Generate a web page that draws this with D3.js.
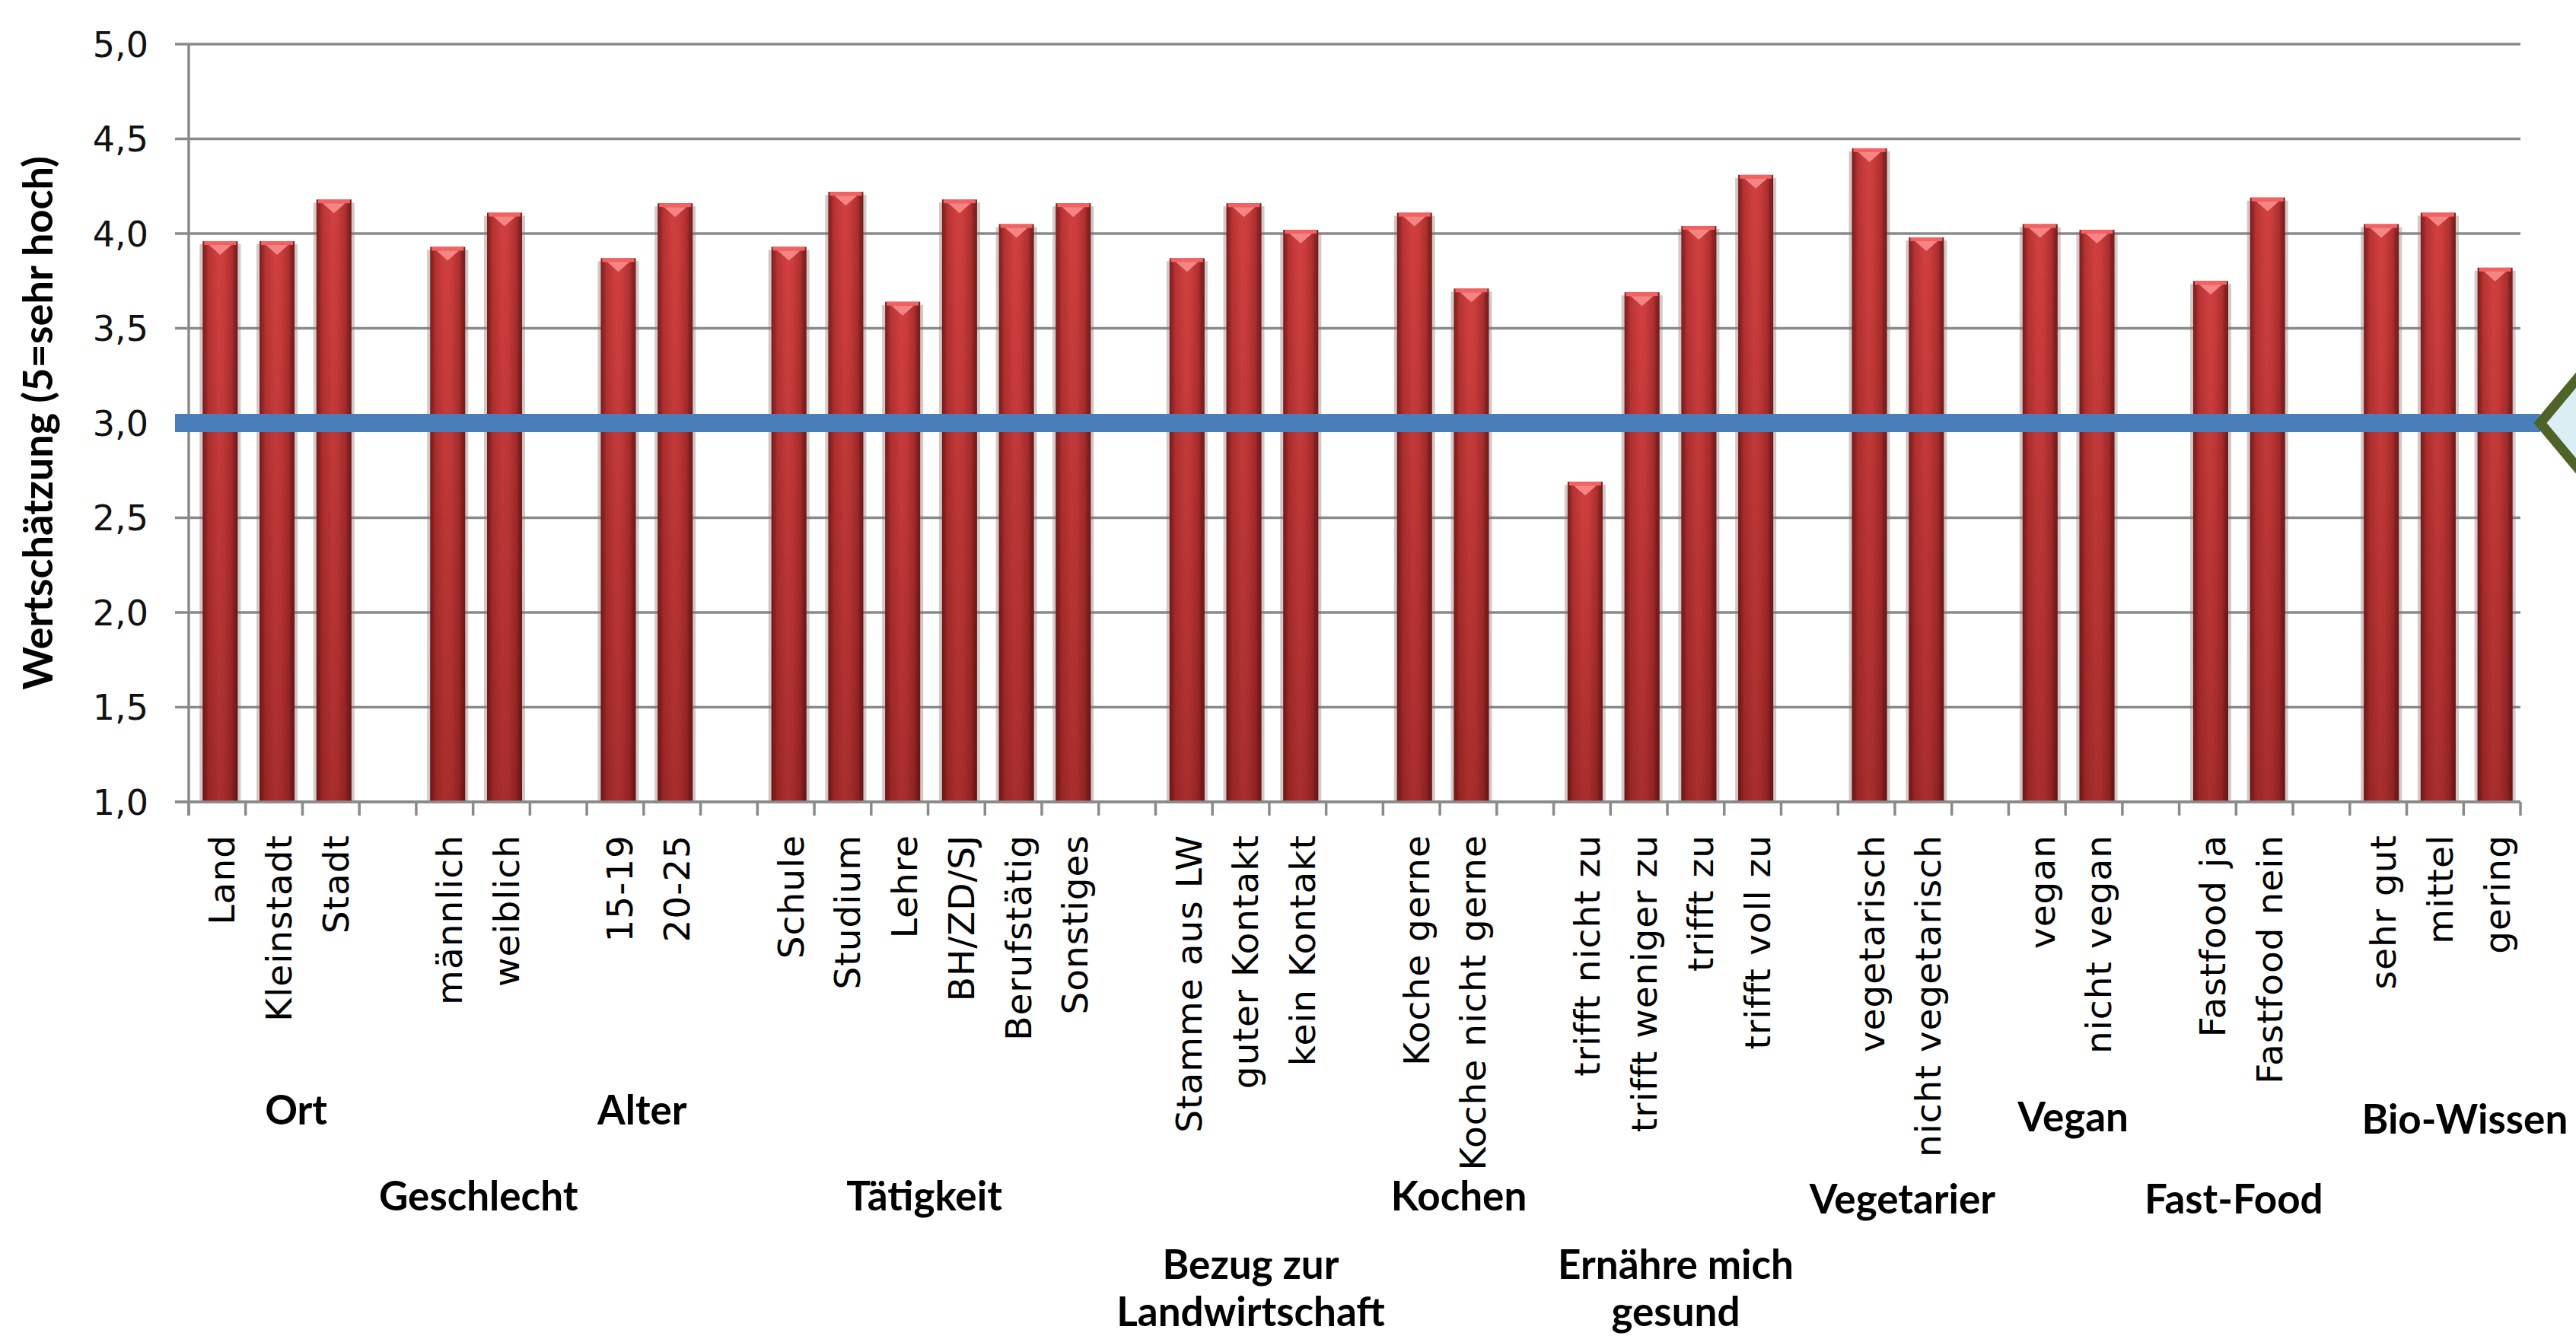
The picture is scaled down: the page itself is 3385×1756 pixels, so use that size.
<!DOCTYPE html>
<html>
<head>
<meta charset="utf-8">
<script src="https://cdn.jsdelivr.net/npm/d3@7/dist/d3.min.js"></script>
<style>
  html, body { margin: 0; padding: 0; background: #fff; }
  svg { display: block; }
</style>
</head>
<body>
<svg id="chart"></svg>
<script>
// ---------- data ----------
const groupNames = [
  "Ort", "Geschlecht", "Alter", "Tätigkeit", "Bezug zur\nLandwirtschaft",
  "Kochen", "Ernähre mich\ngesund", "Vegetarier", "Vegan", "Fast-Food", "Bio-Wissen"
];
const groupCategories = [
  ["Land", "Kleinstadt", "Stadt"],
  ["männlich", "weiblich"],
  ["15-19", "20-25"],
  ["Schule", "Studium", "Lehre", "BH/ZD/SJ", "Berufstätig", "Sonstiges"],
  ["Stamme aus LW", "guter Kontakt", "kein Kontakt"],
  ["Koche gerne", "Koche nicht gerne"],
  ["trifft nicht zu", "trifft weniger zu", "trifft zu", "trifft voll zu"],
  ["vegetarisch", "nicht vegetarisch"],
  ["vegan", "nicht vegan"],
  ["Fastfood ja", "Fastfood nein"],
  ["sehr gut", "mittel", "gering"]
];
const groupValues = [
  [3.96, 3.96, 4.18],
  [3.93, 4.11],
  [3.87, 4.16],
  [3.93, 4.22, 3.64, 4.18, 4.05, 4.16],
  [3.87, 4.16, 4.02],
  [4.11, 3.71],
  [2.69, 3.69, 4.04, 4.31],
  [4.45, 3.98],
  [4.05, 4.02],
  [3.75, 4.19],
  [4.05, 4.11, 3.82]
];
const referenceValue = 3.0;
const yTicks = [1.0, 1.5, 2.0, 2.5, 3.0, 3.5, 4.0, 4.5, 5.0];
const yTitle = "Wertschätzung (5=sehr hoch)";

// ---------- layout ----------
const W = 3385, H = 1756;
const plot = { left: 248, right: 3312, top: 58, bottom: 1054 };
// staggered rows of the group labels, plus the small nudges Excel gave them
const groupLabelRow = [0, 1, 0, 1, 2, 1, 2, 1, 0, 1, 0];
const groupLabelDx = [29, 7, -2, -5, 13, 25, 11, 10, 10, -3, 39];
const groupLabelDy = [0, 0, 0, 0, 0, 0, 0, 4, 9, 4, 12];
const rowBaseline = [1478, 1591, 1681];
const lineGap = 62;
const tickLen = 18;

// slots: members of each group followed by an empty slot (except after the last)
const slots = [];
const bars = [];
groupCategories.forEach((cats, gi) => {
  cats.forEach((c, ci) => {
    slots.push(c);
    bars.push({ label: c, value: groupValues[gi][ci], group: gi });
  });
  if (gi < groupCategories.length - 1) slots.push("__gap" + gi);
});

const svg = d3.select("#chart").attr("width", W).attr("height", H);
const defs = svg.append("defs");

const body = defs.append("linearGradient").attr("id", "barBody")
  .attr("x1", 0).attr("x2", 1).attr("y1", 0).attr("y2", 0);
[[0, "#7c1d1d"], [0.1, "#9c2929"], [0.16, "#b73333"], [0.45, "#d24040"],
 [0.6, "#cd3d3d"], [0.84, "#ad2f2f"], [0.9, "#8d2525"], [1, "#771c1c"]]
  .forEach(([o, c]) => body.append("stop").attr("offset", o).attr("stop-color", c));

const shade = defs.append("linearGradient").attr("id", "barShade")
  .attr("x1", 0).attr("x2", 0).attr("y1", 0).attr("y2", 1);
shade.append("stop").attr("offset", 0).attr("stop-color", "#400000").attr("stop-opacity", 0);
shade.append("stop").attr("offset", 1).attr("stop-color", "#400000").attr("stop-opacity", 0.28);

const x = d3.scaleBand()
  .domain(slots)
  .range([plot.left, plot.right])
  .paddingInner(0.384)
  .paddingOuter(0.192);

const y = d3.scaleLinear().domain([1, 5]).range([plot.bottom, plot.top]);
const fmt = d3.formatLocale({ decimal: ",", thousands: ".", grouping: [3], currency: ["", "€"] }).format(".1f");

// gridlines
svg.append("g")
  .selectAll("line")
  .data(yTicks)
  .join("line")
  .attr("x1", plot.left - tickLen)
  .attr("x2", plot.right)
  .attr("y1", d => y(d))
  .attr("y2", d => y(d))
  .attr("stroke", "#8a8a8a")
  .attr("stroke-width", 3.5);

// y axis line
svg.append("line")
  .attr("x1", plot.left).attr("x2", plot.left)
  .attr("y1", plot.top).attr("y2", plot.bottom + tickLen)
  .attr("stroke", "#8a8a8a").attr("stroke-width", 3.5);

// x ticks at category boundaries
const step = x.step();
const boundaries = d3.range(slots.length + 1).map(i => plot.left + i * step);
svg.append("g")
  .selectAll("line")
  .data(boundaries)
  .join("line")
  .attr("x1", d => d).attr("x2", d => d)
  .attr("y1", plot.bottom).attr("y2", plot.bottom + tickLen)
  .attr("stroke", "#8a8a8a").attr("stroke-width", 3.5);

// bars
const barG = svg.append("g")
  .selectAll("g")
  .data(bars)
  .join("g")
  .attr("transform", d => `translate(${x(d.label) + 4},0)`);

const bw = x.bandwidth();

barG.append("rect")
  .attr("x", -4)
  .attr("y", d => y(d.value) + 4)
  .attr("width", bw + 8)
  .attr("height", d => plot.bottom - y(d.value) - 4)
  .attr("fill", "#8f7676")
  .attr("opacity", 0.4);

barG.append("rect")
  .attr("x", 0)
  .attr("y", d => y(d.value))
  .attr("width", bw)
  .attr("height", d => plot.bottom - y(d.value))
  .attr("fill", "url(#barBody)");

barG.append("rect")
  .attr("x", 0)
  .attr("y", d => y(d.value))
  .attr("width", bw)
  .attr("height", d => plot.bottom - y(d.value))
  .attr("fill", "url(#barShade)");

barG.append("rect")
  .attr("x", 2)
  .attr("y", d => y(d.value))
  .attr("width", bw - 4)
  .attr("height", 5)
  .attr("fill", "#f36262");

barG.append("path")
  .attr("d", d => {
    const t = y(d.value) + 5;
    return `M${bw * 0.18},${t}L${bw * 0.82},${t}L${bw * 0.5},${t + 13}Z`;
  })
  .attr("fill", "#f58585");

// x axis line (over bar bottoms)
svg.append("line")
  .attr("x1", plot.left - tickLen).attr("x2", plot.right)
  .attr("y1", plot.bottom).attr("y2", plot.bottom)
  .attr("stroke", "#8a8a8a").attr("stroke-width", 3.5);

// reference line with diamond marker
const refY = y(referenceValue);
const diamond = { cx: plot.right + 106, hw: 80, hh: 96 };
svg.append("line")
  .attr("x1", plot.left - tickLen)
  .attr("x2", diamond.cx - diamond.hw)
  .attr("y1", refY).attr("y2", refY)
  .attr("stroke", "#4a7ebb")
  .attr("stroke-width", 24);

svg.append("path")
  .attr("d", `M${diamond.cx - diamond.hw},${refY}L${diamond.cx},${refY - diamond.hh}L${diamond.cx + diamond.hw},${refY}L${diamond.cx},${refY + diamond.hh}Z`)
  .attr("fill", "#dbeef4")
  .attr("stroke", "#4f6228")
  .attr("stroke-width", 13)
  .attr("stroke-linejoin", "miter");

// y tick labels
svg.append("g")
  .selectAll("text")
  .data(yTicks)
  .join("text")
  .attr("x", 195)
  .attr("y", d => y(d))
  .attr("dy", "0.36em")
  .attr("text-anchor", "end")
  .attr("font-family", "DejaVu Sans, sans-serif")
  .attr("font-size", 46)
  .attr("fill", "#111")
  .text(d => fmt(d));

// y title
svg.append("text")
  .attr("transform", `translate(48,${(plot.top + plot.bottom) / 2}) rotate(-90)`)
  .attr("text-anchor", "middle")
  .attr("dominant-baseline", "central")
  .attr("font-family", "Lato, sans-serif")
  .attr("font-weight", 700)
  .attr("font-size", 54)
  .attr("fill", "#000")
  .text(yTitle);

// category labels
svg.append("g")
  .selectAll("text")
  .data(bars)
  .join("text")
  .attr("transform", d => `translate(${x(d.label) + bw / 2 + 6},1097) rotate(-90)`)
  .attr("dy", "0.36em")
  .attr("text-anchor", "end")
  .attr("font-family", "DejaVu Sans, sans-serif")
  .attr("font-size", 47)
  .attr("letter-spacing", 1)
  .attr("fill", "#000")
  .text(d => d.label);

// group labels
const groupCenter = gi => {
  const cats = groupCategories[gi];
  const a = x(cats[0]), b = x(cats[cats.length - 1]) + bw;
  return (a + b) / 2 + groupLabelDx[gi];
};
svg.append("g")
  .selectAll("text")
  .data(groupNames)
  .join("text")
  .attr("x", (d, i) => groupCenter(i))
  .attr("y", (d, i) => rowBaseline[groupLabelRow[i]] + groupLabelDy[i])
  .attr("text-anchor", "middle")
  .attr("font-family", "Lato, sans-serif")
  .attr("font-weight", 700)
  .attr("font-size", 53)
  .attr("fill", "#000")
  .each(function (d, i) {
    const t = d3.select(this);
    d.split("\n").forEach((line, li) => {
      t.append("tspan")
        .attr("x", groupCenter(i))
        .attr("dy", li === 0 ? 0 : lineGap)
        .text(line);
    });
  });
</script>
</body>
</html>
